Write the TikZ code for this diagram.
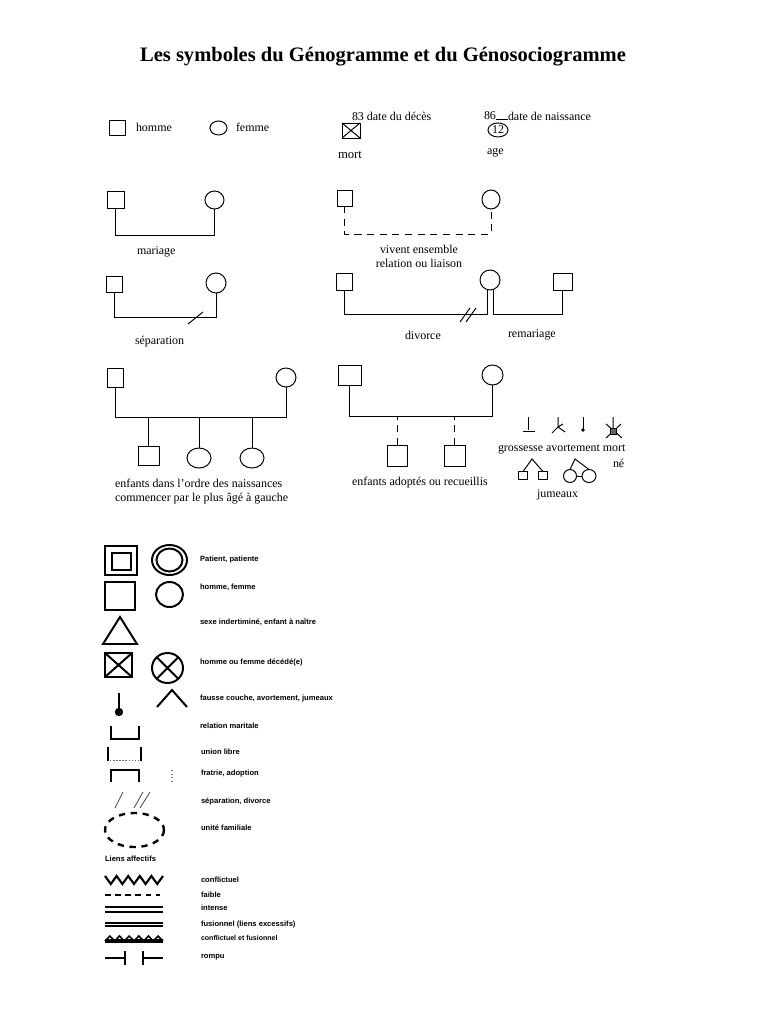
\documentclass[tikz,border=0pt]{standalone}
\usepackage{fontspec}
\setmainfont{Liberation Serif}
\newfontfamily\legendfont{Liberation Sans}
\usetikzlibrary{positioning, shapes.geometric}
\newcommand{\upx}{0.025cm}

\begin{document}
\begin{tikzpicture}[
    x=\upx, y=-\upx,
    every node/.style={inner sep=0pt, outer sep=0pt},
    lbl/.style={font=\fontsize{8.5}{10}\selectfont, anchor=west},
    leg/.style={font=\legendfont\bfseries\fontsize{5.4}{6.5}\selectfont, anchor=west},
    male/.style={draw, line width=0.7pt, minimum width=17*\upx, minimum height=17*\upx},
    female/.style={draw, ellipse, line width=0.7pt, minimum width=19*\upx, minimum height=19*\upx},
    link/.style={line width=0.7pt},
    dlink/.style={link, dash pattern=on 5pt off 4pt},
    sym/.style={draw, line width=1.4pt},
    symline/.style={line width=1.4pt}
]
\useasboundingbox (0,0) rectangle (768,1024);
\fill[white] (0,0) rectangle (768,1024);

\node[font=\bfseries\fontsize{14.6}{17}\selectfont] (title) at (383,57) {Les symboles du Génogramme et du Génosociogramme};

\node[male, minimum width=16*\upx, minimum height=15*\upx] (hom) at (117,127.5) {};
\node[lbl] (homlbl) at (136,127) {homme};
\node[female, minimum width=17*\upx, minimum height=14*\upx] (fem) at (218.5,128) {};
\node[lbl] (femlbl) at (236,127) {femme};

\node[male, minimum width=18*\upx, minimum height=15*\upx] (mort) at (351,130.5) {};
\draw[link] (mort.north west) -- (mort.south east) (mort.north east) -- (mort.south west);
\node[lbl] (deces) at (352,116) {83 date du décès};
\node[lbl, font=\fontsize{9}{10}\selectfont] (mortlbl) at (338,155) {mort};
\node[female, minimum width=20*\upx, minimum height=14*\upx, font=\fontsize{8.5}{9}\selectfont] (age) at (498,130) {12};
\node[lbl] (n86) at (484,116) {86};
\draw[link] (n86.south east) ++(0,-1) -- ++(12,0);
\node[lbl] (naiss) at (508,116) {date de naissance};
\node[lbl] (agelbl) at (487,153) {age};

\node[male] (m1) at (115.5,199.5) {};
\node[female, minimum height=18*\upx] (f1) at (214.5,200) {};
\draw[link] (m1.south) -- ++(0,27) -| (f1.south);
\node[lbl] (mariage) at (137,252) {mariage};

\node[male, minimum width=15*\upx, minimum height=16*\upx] (m2) at (344.5,198) {};
\node[female, minimum width=18*\upx] (f2) at (491,199.5) {};
\draw[dlink] (m2.south) -- ++(0,28) -| (f2.south);
\node[lbl, anchor=center, align=center] (liaison) at (419,256) {vivent ensemble\\relation ou liaison};

\node[male, minimum width=16*\upx, minimum height=16*\upx] (m3) at (114,284) {};
\node[female, minimum width=20*\upx, minimum height=20*\upx] (f3) at (216,283) {};
\draw[link] (m3.south) -- ++(0,25) -| (f3.south);
\draw[link] (188,324) -- (203,312);
\node[lbl] (separ) at (135,342) {séparation};

\node[male, minimum width=16*\upx] (m4) at (344,281.5) {};
\node[female, minimum width=20*\upx, minimum height=20*\upx] (f4) at (490,280) {};
\node[male, minimum width=19*\upx] (m5) at (562.5,281.5) {};
\draw[link] (m4.south) -- ++(0,24) -| (f4.-105);
\draw[link] (m5.south) -- ++(0,24) -| (f4.-70);
\draw[link] (460,322) -- (470,308) (466,322) -- (476,308);
\node[lbl] (divorce) at (405,335) {divorce};
\node[lbl] (remar) at (508,335) {remariage};

\node[male, minimum width=16*\upx, minimum height=19*\upx] (m6) at (115,377.5) {};
\node[female, minimum width=20*\upx] (f6) at (286,377.5) {};
\draw[link] (m6.south) -- ++(0,30) coordinate (s6) -| (f6.south);
\node[male, minimum width=21*\upx, minimum height=19*\upx] (c1) at (148.5,455.5) {};
\node[female, minimum width=24*\upx, minimum height=20*\upx] (c2) at (199,458) {};
\node[female, minimum width=24*\upx, minimum height=20*\upx] (c3) at (252,458) {};
\foreach \c in {c1,c2,c3}
    \draw[link] (\c.north) -- (\c.north |- s6);
\node[lbl] (ordre) at (115,483) {enfants dans l'ordre des naissances};
\node[lbl] (gauche) at (115,499) {commencer par le plus âgé à gauche};

\node[male, minimum width=23*\upx, minimum height=20*\upx] (m7) at (349.5,375) {};
\node[female, minimum width=21*\upx, minimum height=20*\upx] (f7) at (492.5,375) {};
\draw[link] (m7.south) -- ++(0,31) coordinate (s7) -| (f7.south);
\node[male, minimum width=20*\upx, minimum height=21*\upx] (a1) at (397,455.5) {};
\node[male, minimum width=21*\upx, minimum height=21*\upx] (a2) at (454.5,455.5) {};
\foreach \c in {a1,a2}
    \draw[dlink] (\c.north) -- (\c.north |- s7);
\node[lbl] (adopt) at (352,483) {enfants adoptés ou recueillis};

\draw[link] (528,417) -- (528,430) (523,431) -- (535,431);
\draw[link] (558,417) -- (558,427) -- (552,433) (558,427) -- (565,432) (558,427) -- (563,424);
\draw[link] (583,417) -- (583,429);
\fill (583,430) circle[radius=1.8];
\draw[link] (613,417) -- (613,428) (606,424) -- (622,438) (606,438) -- (621,424);
\draw[link, fill=black!60] (610,428) rectangle (616,434);
\node[lbl] (gross) at (498,449) {grossesse avortement mort};
\node[lbl] (ne) at (613,463) {né};

\node[male, minimum width=9*\upx, minimum height=8*\upx] (tw1) at (523,475.5) {};
\node[male, minimum width=9*\upx, minimum height=8*\upx] (tw2) at (543,475.5) {};
\coordinate (tw) at (532,459);
\draw[link] (tw1.north) -- (tw) -- (tw2.north);
\node[female, minimum width=13*\upx, minimum height=13*\upx] (tc1) at (570,476) {};
\node[female, minimum width=14*\upx, minimum height=13*\upx] (tc2) at (589,476) {};
\coordinate (tc) at (575,459);
\draw[link] (tc1.north) -- (tc) -- (tc2.north);
\draw[link] (tc1.east) -- (tc2.west);
\node[lbl] (jum) at (537,495) {jumeaux};

\node[sym, minimum width=32*\upx, minimum height=29*\upx] (pat) at (121,560.5) {};
\node[sym, minimum width=19*\upx, minimum height=17*\upx] (patin) at (121.5,561.5) {};
\node[sym, ellipse, minimum width=35*\upx, minimum height=30*\upx] (ptt) at (169.5,560) {};
\node[sym, ellipse, minimum width=26*\upx, minimum height=23*\upx] (pttin) at (ptt.center) {};
\node[leg] (patlbl) at (200,560) {Patient, patiente};

\node[sym, minimum width=30*\upx, minimum height=28*\upx] (hf1) at (120,596) {};
\node[sym, ellipse, minimum width=27*\upx, minimum height=25*\upx] (hf2) at (169.5,594.5) {};
\node[leg] (hflbl) at (200,587) {homme, femme};

\draw[symline, line join=miter] (103,644) -- (120,617) -- (137,644) -- cycle;
\node[leg] (sexlbl) at (200,622) {sexe indertiminé, enfant à naître};

\node[sym, minimum width=27*\upx, minimum height=24*\upx] (dc1) at (118.5,665) {};
\draw[symline] (dc1.north west) -- (dc1.south east) (dc1.north east) -- (dc1.south west);
\node[sym, ellipse, minimum width=31*\upx, minimum height=30*\upx] (dc2) at (167.5,668) {};
\draw[symline] (dc2.45) -- (dc2.225) (dc2.135) -- (dc2.-45);
\node[leg] (dclbl) at (200,662) {homme ou femme décédé(e)};

\draw[symline] (119,693) -- (119,710);
\fill (119,712) circle[radius=4.2];
\draw[symline] (157,707) -- (172,690) -- (187,707);
\node[leg] (fclbl) at (200,699) {fausse couche, avortement, jumeaux};

\draw[symline] (111,726) -- (111,739) -- (139,739) -- (139,726);
\node[leg] (rmlbl) at (200,726) {relation maritale};

\draw[line width=1.8pt] (108,747) -- (108,761) (141,747) -- (141,761);
\draw[black!60, line width=0.6pt, dash pattern=on 1pt off 1.2pt] (110,760) -- (139,760);
\node[leg] (ullbl) at (201,752) {union libre};

\draw[symline] (111,782) -- (111,770) -- (139,770) -- (139,782);
\draw[black!50, line width=0.8pt, dash pattern=on 1pt off 1.5pt] (172,770) -- (172,781);
\node[leg] (frlbl) at (201,774) {fratrie, adoption};

\draw[black!70, line width=0.6pt] (115,808) -- (123,792) (134,808) -- (143,792) (140,808) -- (150,792);
\node[leg] (sdlbl) at (201,801) {séparation, divorce};

\draw[line width=1.7pt, dash pattern=on 4.5pt off 4pt] (134.5,830) ellipse[x radius=29.5, y radius=17];
\node[leg] (uflbl) at (201,828) {unité familiale};

\node[leg] (liens) at (105,859) {Liens affectifs};

\draw[line width=1.5pt, line join=miter] (105,876) \foreach \k in {1,...,5} { -- ++(5.8,8) -- ++(5.8,-8) };
\node[leg] (l1) at (201,880) {conflictuel};
\draw[line width=1pt, dash pattern=on 4pt off 3.2pt] (105,895) -- (160,895);
\node[leg] (l2) at (201,895) {faible};
\draw[line width=1.1pt] (105,907) -- (163,907) (105,912) -- (163,912);
\node[leg] (l3) at (201,908) {intense};
\draw[line width=3.2pt] (105,924.5) -- (163,924.5);
\draw[white, line width=0.2pt] (105,924.5) -- (163,924.5);
\node[leg] (l4) at (201,925) {fusionnel (liens excessifs)};
\draw[line width=2.2pt] (105,941) -- (163,941);
\draw[line width=1.1pt] (105,941) \foreach \k in {1,...,6} { -- ++(4.83,-5) -- ++(4.83,5) };
\node[leg, font=\legendfont\bfseries\fontsize{5}{6}\selectfont] (l5) at (201,938) {conflictuel et fusionnel};
\draw[line width=1.3pt] (105,958) -- (125,958) (125,951) -- (125,965) (143,951) -- (143,965) (143,958) -- (163,958);
\node[leg] (l6) at (201,957) {rompu};
\end{tikzpicture}
\end{document}
